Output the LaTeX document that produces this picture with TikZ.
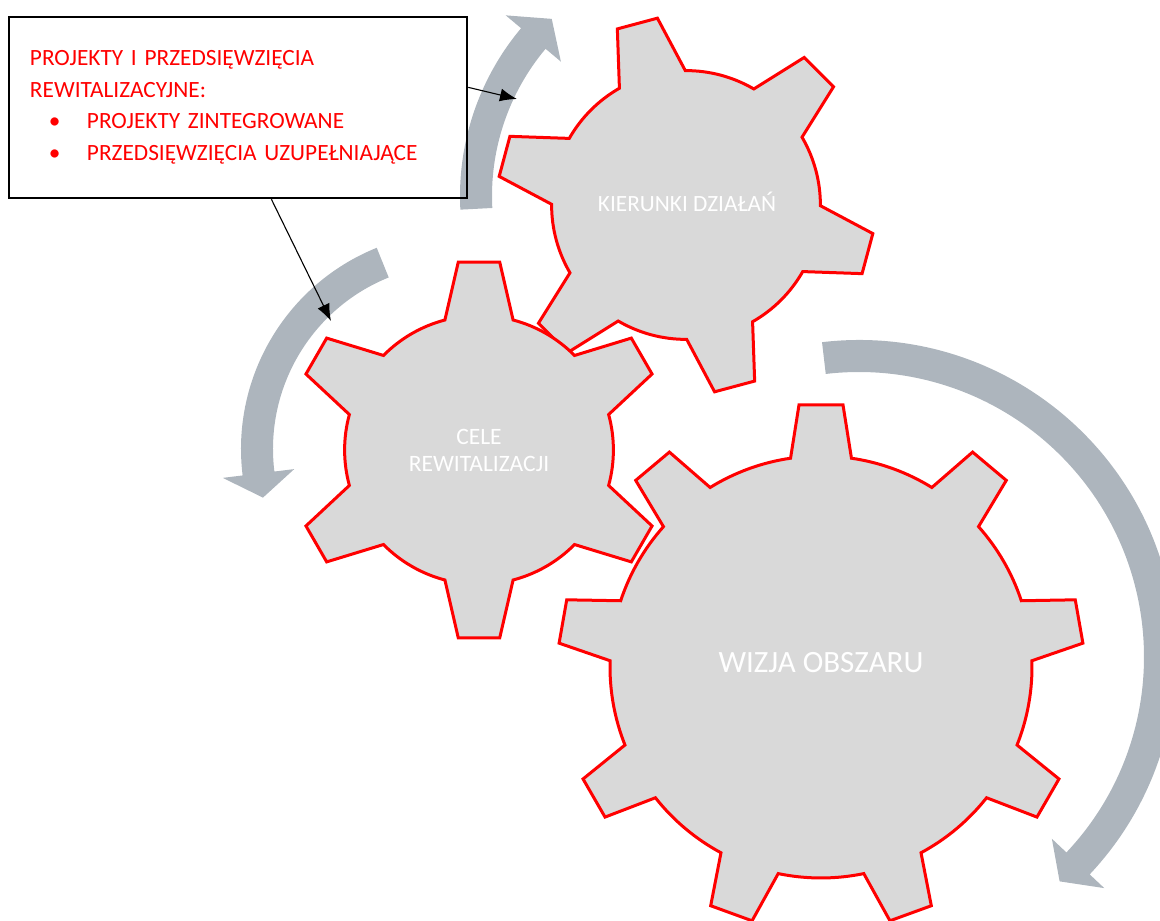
\documentclass[tikz,border=0pt]{standalone}
\usepackage{fontspec}
\setmainfont{Carlito}
\usepackage{tikz}
\usetikzlibrary{arrows.meta}
\definecolor{gearred}{RGB}{255,0,0}
\definecolor{gearfill}{RGB}{217,217,217}
\definecolor{arrowgray}{RGB}{173,181,189}
\tikzstyle{gear}=[draw=gearred,fill=gearfill,line width=3pt]
\tikzstyle{turn}=[fill=arrowgray]
\tikzstyle{gearlabel}=[text=white,align=center,inner sep=0pt]
\tikzstyle{infobox}=[draw=black,line width=2.5pt,text width=416pt,inner xsep=21pt,minimum width=458pt,minimum height=181pt,align=left,text=gearred]
\tikzstyle{pointer}=[draw,line width=1.1pt,-{Latex[length=17pt,width=13pt]}]

% gear: center, teeth, rotation, tip radius, root radius, tip half angle, root half angle
\newcommand{\gearat}[7]{%
  \path[gear,shift={#1}] ({#3-#7}:#5)
    \foreach \k in {1,...,#2}{
      -- ({#3+(\k-1)*360/#2-#6}:#4) -- ({#3+(\k-1)*360/#2+#6}:#4)
      -- ({#3+(\k-1)*360/#2+#7}:#5)
      arc[start angle={#3+(\k-1)*360/#2+#7},end angle={#3+\k*360/#2-#7},radius=#5]
    } -- cycle;
}
% turning arrow: center, mid radius, tail angle, head angle, tip angle
\newcommand{\turnarrow}[5]{%
  \path[turn,shift={#1}] ({#3}:{#2+16}) arc[start angle=#3,end angle=#4,radius={#2+16}]
    -- ({#4}:{#2+36}) -- ({#5}:{#2}) -- ({#4}:{#2-36}) -- ({#4}:{#2-16})
    arc[start angle=#4,end angle=#3,radius={#2-16}] -- cycle;
}

\begin{document}
\begin{tikzpicture}[x=1pt,y=1pt]
  \useasboundingbox (0,0) rectangle (1160,921);
  \turnarrow{(721,725)}{245}{183}{140}{133.7}
  \turnarrow{(458,472)}{201}{112}{187}{194}
  \turnarrow{(859,264)}{301}{96.7}{-43.3}{-48.2}
  \gearat{(821,254)}{9}{90}{263}{211}{4.8}{8.3}
  \gearat{(686,716)}{6}{105}{189}{134.4}{6.3}{14.7}
  \gearat{(479,471)}{6}{90}{189}{134.4}{6.3}{14.7}
  \node[gearlabel,font=\fontsize{31}{37}\selectfont] (vision) at (821,258) {WIZJA OBSZARU};
  \node[gearlabel,font=\fontsize{23.3}{27}\selectfont] (actions) at (687,719) {KIERUNKI DZIAŁAŃ};
  \node[gearlabel,font=\fontsize{23.5}{27}\selectfont] (goals) at (479,471) {CELE\\REWITALIZACJI};
  \node[infobox,font=\fontsize{23.3}{31.5}\selectfont] (projects) at (238,813.5) {PROJEKTY I PRZEDSIĘWZIĘCIA\\REWITALIZACYJNE:\\
    \hspace*{19pt}\makebox[38pt][l]{\textbullet}PROJEKTY ZINTEGROWANE\\
    \hspace*{19pt}\makebox[38pt][l]{\textbullet}PRZEDSIĘWZIĘCIA UZUPEŁNIAJĄCE};
  \coordinate (turnA) at (517,822);
  \coordinate (turnB) at (331,600);
  \draw[pointer] (projects.5) -- (turnA);
  \draw[pointer] (projects.290) -- (turnB);
\end{tikzpicture}
\end{document}
